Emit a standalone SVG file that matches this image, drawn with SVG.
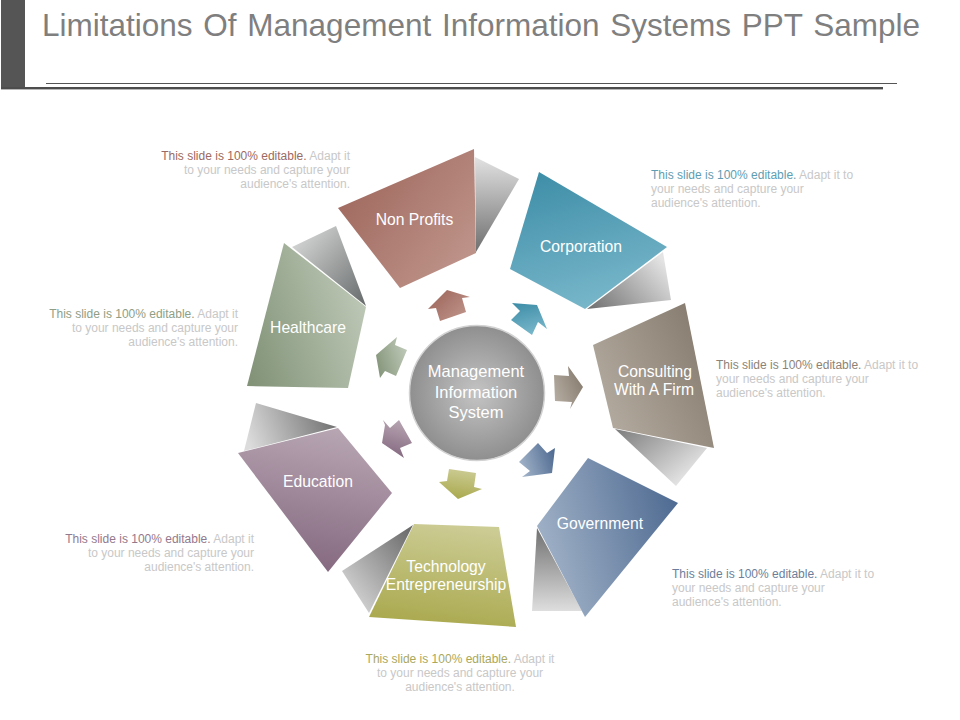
<svg xmlns="http://www.w3.org/2000/svg" width="960" height="720" viewBox="0 0 960 720">
<style>
text{font-family:"Liberation Sans",Arial,sans-serif}
.t{font-size:31.5px;fill:#7f7f7f;word-spacing:2px}
.n{font-size:15.7px;fill:#fff;text-anchor:middle}
.b{font-size:16.500px}
.c{font-size:12px;fill:#c8c8c8}
.e{text-anchor:end}
.m{text-anchor:middle}
</style>
<defs>
<linearGradient id="g1" x1="0" y1="0" x2="0" y2="1"><stop offset="0" stop-color="#e2e2e2"/><stop offset="1" stop-color="#6f6f6f"/></linearGradient>
<linearGradient id="g2" x1="0" y1="0" x2="1" y2="1"><stop offset="0" stop-color="#e0e0e0"/><stop offset="1" stop-color="#666a6a"/></linearGradient>
<linearGradient id="g3" x1="0" y1="0" x2="0.9" y2="0.7"><stop offset="0" stop-color="#7c7c7c"/><stop offset="1" stop-color="#e4e4e4"/></linearGradient>
<linearGradient id="g4" x1="0" y1="0.9" x2="1" y2="0.3"><stop offset="0" stop-color="#737373"/><stop offset="1" stop-color="#e4e4e4"/></linearGradient>
<linearGradient id="g5" x1="0" y1="1" x2="0" y2="0"><stop offset="0" stop-color="#dedede"/><stop offset="1" stop-color="#707070"/></linearGradient>
<linearGradient id="g6" x1="0" y1="1" x2="1" y2="0"><stop offset="0" stop-color="#e4e4e4"/><stop offset="1" stop-color="#666666"/></linearGradient>
<linearGradient id="g7" x1="0" y1="0.6" x2="1" y2="0.4"><stop offset="0" stop-color="#dcdcdc"/><stop offset="1" stop-color="#707070"/></linearGradient>
<linearGradient id="np" x1="0.1" y1="0.2" x2="0.9" y2="0.8"><stop offset="0" stop-color="#a0695f"/><stop offset="1" stop-color="#bd9288"/></linearGradient>
<linearGradient id="co" x1="0.3" y1="0" x2="0.6" y2="1"><stop offset="0" stop-color="#408fa9"/><stop offset="1" stop-color="#7ab8cb"/></linearGradient>
<linearGradient id="cf" x1="1" y1="0.1" x2="0" y2="0.7"><stop offset="0" stop-color="#82776a"/><stop offset="1" stop-color="#b5aca1"/></linearGradient>
<linearGradient id="go" x1="1" y1="0.3" x2="0" y2="0.6"><stop offset="0" stop-color="#4f6b92"/><stop offset="1" stop-color="#a2b3c8"/></linearGradient>
<linearGradient id="te" x1="0.4" y1="1" x2="0.6" y2="0"><stop offset="0" stop-color="#aaa94e"/><stop offset="1" stop-color="#cccc95"/></linearGradient>
<linearGradient id="ed" x1="0.45" y1="1" x2="0.65" y2="0"><stop offset="0" stop-color="#84687f"/><stop offset="1" stop-color="#b8a6b3"/></linearGradient>
<linearGradient id="he" x1="0" y1="0.85" x2="1" y2="0.45"><stop offset="0" stop-color="#829378"/><stop offset="1" stop-color="#bcc7b5"/></linearGradient>
<radialGradient id="ci" cx="0.5" cy="0.5" r="0.5"><stop offset="0" stop-color="#c4c4c4"/><stop offset="1" stop-color="#8f8f8f"/></radialGradient>
</defs>

<g id="header">
<rect x="1" y="0" width="24" height="89" fill="#555555"/>
<rect x="1" y="87" width="882" height="2.4" fill="#4d4d4d"/>
<rect x="46" y="83" width="851" height="1" fill="#555555"/>
<text class="t" x="42" y="36">Limitations Of Management Information Systems PPT Sample</text>
</g>

<g id="connectors">
<polygon points="447,290 470,297 462,298 466,312 440,321 436,308 428,309" fill="url(#np)"/>
<polygon points="512,303 537,305 547,329 538,322 532,335 511,320 520,311" fill="url(#co)"/>
<polygon points="583,387 568,366 569,376 554,375 555,401 572,402 570,409" fill="url(#cf)"/>
<polygon points="538,443 547,453 555,448 552,473 522,477 530,471 519,462" fill="url(#go)"/>
<polygon points="449,469 476,473 474,487 482,489 458,499 439,482 447,481" fill="url(#te)"/>
<polygon points="399,420 412,443 400,448 404,458 382,443 385,425 383,420 390,428" fill="url(#ed)"/>
<polygon points="397,337 395,345 407,350 396,376 385,371 380,378 376,355" fill="url(#he)"/>
</g>

<g id="center">
<circle cx="477" cy="393" r="67.5" fill="url(#ci)" stroke="#d2d2d2" stroke-width="1.5"/>
<text class="n b" x="476" y="377">Management</text>
<text class="n b" x="476" y="398">Information</text>
<text class="n b" x="476" y="418">System</text>
</g>

<g id="non-profits">
<polygon points="475,157 519,179 476,252" fill="url(#g1)"/>
<polygon points="474,149 338,208 400,288 476,253" fill="url(#np)"/>
<text class="n" x="414.500" y="225">Non Profits</text>
<text class="c e" x="350" y="160"><tspan fill="#9c6a60">This slide is 100% editable.</tspan> Adapt it</text>
<text class="c e" x="350" y="174">to your needs and capture your</text>
<text class="c e" x="350" y="188">audience's attention.</text>
</g>

<g id="corporation">
<polygon points="663,252 671,300 587,309" fill="url(#g4)"/>
<polygon points="539,172 667,247 585,309 510,269" fill="url(#co)"/>
<text class="n" x="581" y="252">Corporation</text>
<text class="c" x="651" y="179"><tspan fill="#5f9db2">This slide is 100% editable.</tspan> Adapt it to</text>
<text class="c" x="651" y="193">your needs and capture your</text>
<text class="c" x="651" y="207">audience's attention.</text>
</g>

<g id="consulting">
<polygon points="707,448 676,486 615,429" fill="url(#g3)"/>
<polygon points="685,303 593,345 613,428 714,448" fill="url(#cf)"/>
<text class="n" x="655" y="377">Consulting</text>
<text class="n" x="654" y="395">With A Firm</text>
<text class="c" x="716" y="369"><tspan fill="#8c8377">This slide is 100% editable.</tspan> Adapt it to</text>
<text class="c" x="716" y="383">your needs and capture your</text>
<text class="c" x="716" y="397">audience's attention.</text>
</g>

<g id="government">
<polygon points="537,528 532,611 582,611" fill="url(#g5)"/>
<polygon points="588,458 678,503 585,617 537,526" fill="url(#go)"/>
<text class="n" x="600" y="529">Government</text>
<text class="c" x="672" y="578"><tspan fill="#6b7f9c">This slide is 100% editable.</tspan> Adapt it to</text>
<text class="c" x="672" y="592">your needs and capture your</text>
<text class="c" x="672" y="606">audience's attention.</text>
</g>

<g id="technology">
<polygon points="413,525 342,571 369,613" fill="url(#g6)"/>
<polygon points="414,524 499,527 516,627 369,617" fill="url(#te)"/>
<text class="n" x="446" y="572">Technology</text>
<text class="n" x="446" y="590">Entrepreneurship</text>
<text class="c m" x="460" y="663"><tspan fill="#a9a85c">This slide is 100% editable.</tspan> Adapt it</text>
<text class="c m" x="460" y="677">to your needs and capture your</text>
<text class="c m" x="460" y="691">audience's attention.</text>
</g>

<g id="education">
<polygon points="256,403 337,427 244,451" fill="url(#g7)"/>
<polygon points="338,428 392,493 328,572 238,453" fill="url(#ed)"/>
<text class="n" x="318" y="487">Education</text>
<text class="c e" x="254" y="543"><tspan fill="#93798d">This slide is 100% editable.</tspan> Adapt it</text>
<text class="c e" x="254" y="557">to your needs and capture your</text>
<text class="c e" x="254" y="571">audience's attention.</text>
</g>

<g id="healthcare">
<polygon points="292,247 336,226 366,306" fill="url(#g2)"/>
<polygon points="284,243 366,307 348,388 247,386" fill="url(#he)"/>
<text class="n" x="308" y="333">Healthcare</text>
<text class="c e" x="238" y="318"><tspan fill="#8f9e85">This slide is 100% editable.</tspan> Adapt it</text>
<text class="c e" x="238" y="332">to your needs and capture your</text>
<text class="c e" x="238" y="346">audience's attention.</text>
</g>
</svg>
